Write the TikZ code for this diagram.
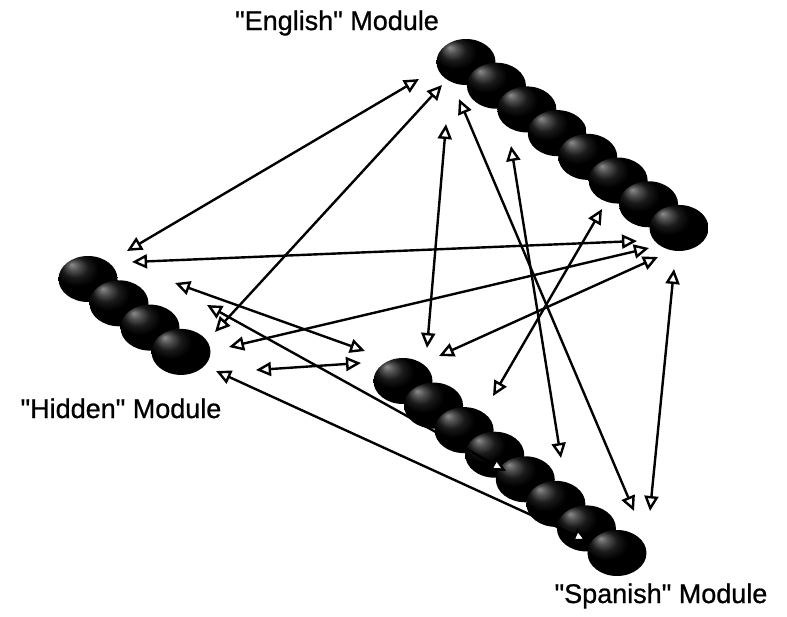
\documentclass[tikz,border=0pt]{standalone}
\usepackage{fontspec}
\setmainfont{Liberation Sans}[Ligatures=TeXOff]
\newfontfamily\labelfont{Liberation Sans}[Ligatures=TeXOff,FakeBold=0.8]
\usetikzlibrary{shapes.geometric,arrows.meta}

% dark unit with a dim grey patch at its upper left
\pgfdeclareradialshading{unitshade}{\pgfpoint{-14bp}{16bp}}{%
  color(0bp)=(black!45); color(5bp)=(black!68); color(11bp)=(black!90);
  color(18bp)=(black); color(50bp)=(black)}

\tikzset{
  unit/.style={ellipse, minimum width=59pt, minimum height=46pt,
    inner sep=0pt, shading=unitshade, draw=none},
  openhead/.tip={Triangle[length=15pt,width=14pt,fill=white,line width=2.4pt]},
  link/.style={line width=2.4pt, openhead-openhead},
  modlabel/.style={anchor=base, font=\labelfont\fontsize{27}{31}\selectfont, inner sep=0pt}
}

\begin{document}
\begin{tikzpicture}[x=1pt,y=-1pt]
\useasboundingbox (0,0) rectangle (787,616);
\fill[white] (0,0) rectangle (787,616);

% "English" module: eight units
\foreach \i in {1,...,8} {
  \node[unit] (e\i) at ({466+30.43*(\i-1)},{62+23.71*(\i-1)}) {};
}
% "Hidden" module: four units
\foreach \i in {1,...,4} {
  \node[unit] (h\i) at ({88+31*(\i-1)},{279+24.3*(\i-1)}) {};
}
% "Spanish" module: eight units
\foreach \i in {1,...,8} {
  \node[unit] (s\i) at ({403+30.57*(\i-1)},{381+24.57*(\i-1)}) {};
}

% module labels
\node[modlabel] (le) at (337,30) {"English" Module};
\node[modlabel] (lh) at (121,418) {"Hidden" Module};
\node[modlabel] (ls) at (661,603) {"Spanish" Module};

% connector ends
\coordinate (a1) at (127,251);  \coordinate (b1) at (419,79);
\coordinate (a2) at (215,332);  \coordinate (b2) at (442,85);
\coordinate (a3) at (132,262);  \coordinate (b3) at (637,241);
\coordinate (a4) at (229,347);  \coordinate (b4) at (649,248);
\coordinate (a5) at (439,356);  \coordinate (b5) at (658,257);
\coordinate (a6) at (175,283);  \coordinate (b6) at (365,351);
\coordinate (a7) at (207,305);  \coordinate (b7) at (506,471);
\coordinate (a8) at (216,371);  \coordinate (b8) at (588,541);
\coordinate (a9) at (256,370);  \coordinate (b9) at (361,363);
\coordinate (a10) at (446,124); \coordinate (b10) at (427,348);
\coordinate (a11) at (459,99);  \coordinate (b11) at (634,511);
\coordinate (a12) at (511,146); \coordinate (b12) at (561,458);
\coordinate (a13) at (602,209); \coordinate (b13) at (493,396);
\coordinate (a14) at (674,269); \coordinate (b14) at (650,511);

% two-way connections between the modules
\foreach \k in {1,...,14} {
  \draw[link] (a\k) -- (b\k);
}
\end{tikzpicture}
\end{document}
